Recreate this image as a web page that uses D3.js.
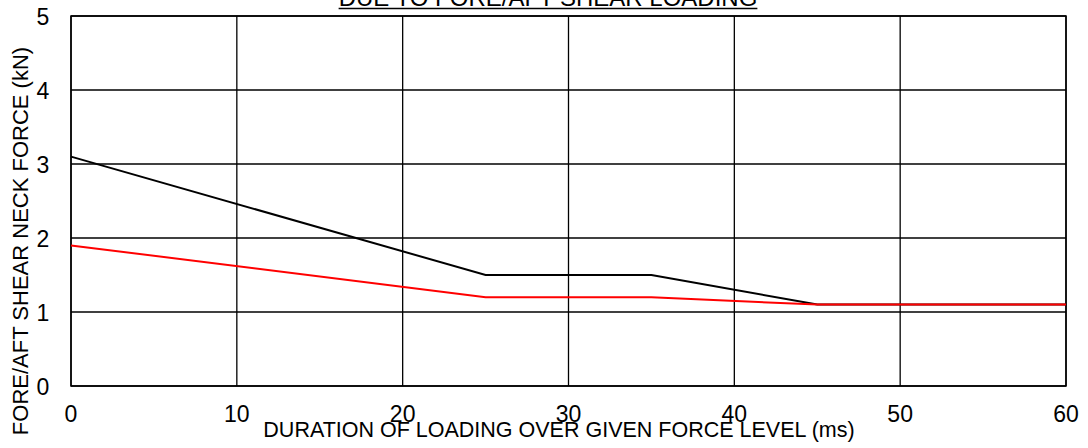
<!DOCTYPE html>
<html><head><meta charset="utf-8">
<script src="https://cdn.jsdelivr.net/npm/d3@7"></script>
<style>body{margin:0;background:#fff}svg{display:block}text{font-family:"Liberation Sans",Arial,sans-serif;fill:#000}</style>
</head><body><svg id="c" width="1088" height="448"></svg>
<script>
const xTicks = [0,10,20,30,40,50,60];
const yTicks = [0,1,2,3,4,5];
const blackX = [0,25,35,45,60];
const blackY = [3.1,1.5,1.5,1.1,1.1];
const redX = [0,25,35,45,60];
const redY = [1.9,1.2,1.2,1.1,1.1];
const title = "DUE TO FORE/AFT SHEAR LOADING";
const xLabel = "DURATION OF LOADING OVER GIVEN FORCE LEVEL (ms)";
const yLabel = "FORE/AFT SHEAR NECK FORCE (kN)";

const svg = d3.select("#c");
const L=71,R=1066,T=16,B=386;
const x = d3.scaleLinear().domain([0,60]).range([L,R]);
const y = d3.scaleLinear().domain([0,5]).range([B,T]);

// grid
svg.append("g").selectAll("line").data(xTicks).join("line")
  .attr("x1",d=>x(d)).attr("x2",d=>x(d)).attr("y1",T).attr("y2",B)
  .attr("stroke","#000").attr("stroke-width",1.3);
svg.append("g").selectAll("line").data(yTicks).join("line")
  .attr("x1",L).attr("x2",R).attr("y1",d=>y(d)).attr("y2",d=>y(d))
  .attr("stroke","#000").attr("stroke-width",1.3);
svg.append("rect").attr("x",L).attr("y",T).attr("width",R-L).attr("height",B-T)
  .attr("fill","none").attr("stroke","#000").attr("stroke-width",1.5);

// tick labels
svg.append("g").selectAll("text").data(xTicks).join("text")
  .attr("x",d=>x(d)).attr("y",422).attr("text-anchor","middle")
  .style("font-size","23px").text(d=>d);
svg.append("g").selectAll("text").data(yTicks).join("text")
  .attr("x",43).attr("y",d=>y(d)+9).attr("text-anchor","middle")
  .style("font-size","23px").text(d=>d);

// lines
const line = d3.line().x(d=>x(d[0])).y(d=>y(d[1]));
svg.append("path").datum(blackX.map((v,i)=>[v,blackY[i]])).attr("d",line)
  .attr("fill","none").attr("stroke","#000").attr("stroke-width",2);
svg.append("path").datum(redX.map((v,i)=>[v,redY[i]])).attr("d",line)
  .attr("fill","none").attr("stroke","#ff0000").attr("stroke-width",2);

// title
const t = svg.append("text").attr("x",548).attr("y",6).attr("text-anchor","middle")
  .style("font-size","24px").text(title);
const tw = t.node().getComputedTextLength();
svg.append("line").attr("x1",548-tw/2).attr("x2",548+tw/2).attr("y1",8.5).attr("y2",8.5)
  .attr("stroke","#000").attr("stroke-width",1.4);

svg.append("text").attr("x",559).attr("y",437).attr("text-anchor","middle")
  .style("font-size","21.5px").text(xLabel);
svg.append("text").attr("transform","translate(28,241) rotate(-90)").attr("text-anchor","middle")
  .style("font-size","22px").text(yLabel);
</script></body></html>
